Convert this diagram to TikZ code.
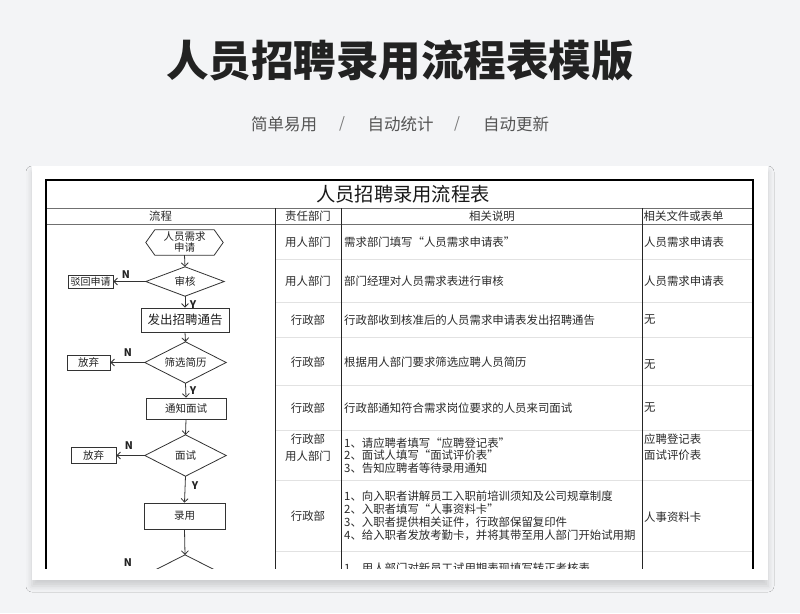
\documentclass[tikz,border=0pt]{standalone}
\usepackage{fontspec}
\setmainfont{Noto Sans CJK SC}
\usetikzlibrary{arrows.meta,shadows.blur}
\definecolor{bg}{HTML}{F3F4F6}
\definecolor{ttl}{HTML}{222222}
\definecolor{sub}{HTML}{555555}
\definecolor{fline}{HTML}{333333}
\definecolor{ftext}{HTML}{222222}
\definecolor{ctext}{HTML}{2A2A2A}
\definecolor{rowline}{HTML}{E2E2E2}
\definecolor{hline}{HTML}{707070}
\begin{document}
\begin{tikzpicture}[x=1pt,y=-1pt,
  fl/.style={draw=fline,line width=0.8pt},
  arr/.style={draw=fline,line width=0.8pt,-{Straight Barb[length=3.5pt,width=7pt]}},
  flowbox/.style={draw=fline,line width=0.8pt,inner sep=0pt,text=ftext,font=\fontsize{10.5}{11}\selectfont},
  dmd/.style={inner sep=0pt,text=ftext,font=\fontsize{10.5}{11}\selectfont},
  yn/.style={inner sep=0pt,text=ftext,font=\bfseries\fontsize{10.5}{11}\selectfont},
  cell/.style={inner sep=0pt,text=ctext,font=\fontsize{11.4}{13}\selectfont},
  lcell/.style={cell,anchor=west,align=left},
  ccell/.style={cell,align=center},
  hdr/.style={inner sep=0pt,text=ctext,font=\fontsize{11.4}{13}\selectfont}
]
\useasboundingbox (0,0) rectangle (800,613);
\fill[bg] (0,0) rectangle (800,613);

% headings
\node[inner sep=0pt,text=ttl,font=\bfseries\fontsize{42.5}{44}\selectfont] (title) at (400,61) {人员招聘录用流程表模版};
\node[inner sep=0pt,text=sub,font=\fontsize{16.5}{17}\selectfont] (s1) at (284,124) {简单易用};
\node[inner sep=0pt,text=sub!80,font=\fontsize{15}{17}\selectfont] (sl1) at (342,124) {/};
\node[inner sep=0pt,text=sub,font=\fontsize{16.5}{17}\selectfont] (s2) at (400.5,124) {自动统计};
\node[inner sep=0pt,text=sub!80,font=\fontsize{15}{17}\selectfont] (sl2) at (457,124) {/};
\node[inner sep=0pt,text=sub,font=\fontsize{16.5}{17}\selectfont] (s3) at (516,124) {自动更新};

% card
\path[fill=white,blur shadow={shadow xshift=0pt,shadow yshift=-6pt,shadow blur radius=6pt,shadow opacity=16}] (32,166) rectangle (768,580);

\begin{scope}
\clip (32,166) rectangle (768,568);
% row separators
\foreach \yy in {259,302,337,385,430,480,551}{
  \draw[rowline,line width=0.8pt] (275,\yy) -- (753,\yy);
}
% header lines
\draw[hline,line width=1pt] (46,208) -- (753,208);
\draw[hline,line width=1pt] (46,224) -- (753,224);
% column lines
\draw[black!85,line width=1pt] (275,208) -- (275,570);
\draw[black!85,line width=1pt] (341.5,208) -- (341.5,570);
\draw[black!85,line width=1pt] (642,208) -- (642,570);
% outer border
\draw[black,line width=1.4pt] (46,570) -- (46,180) -- (753,180) -- (753,570);

% table title and headers
\node[inner sep=0pt,text=black!90,font=\fontsize{19.3}{20}\selectfont] (ttitle) at (403,194) {人员招聘录用流程表};
\node[hdr] (h1) at (160.5,216) {流程};
\node[hdr] (h2) at (308,216) {责任部门};
\node[hdr] (h3) at (492,216) {相关说明};
\node[hdr,anchor=west] (h4) at (643.5,216) {相关文件或表单};

% row 1
\node[ccell] (c21) at (308,242) {用人部门};
\node[lcell] (c31) at (344,242) {需求部门填写“人员需求申请表”};
\node[lcell] (c41) at (644,242) {人员需求申请表};
% row 2
\node[ccell] (c22) at (308,281) {用人部门};
\node[lcell] (c32) at (344,281) {部门经理对人员需求表进行审核};
\node[lcell] (c42) at (644,281) {人员需求申请表};
% row 3
\node[ccell] (c23) at (308,320) {行政部};
\node[lcell] (c33) at (344,320) {行政部收到核准后的人员需求申请表发出招聘通告};
\node[lcell] (c43) at (644,320) {无};
% row 4
\node[ccell] (c24) at (308,362) {行政部};
\node[lcell] (c34) at (344,362) {根据用人部门要求筛选应聘人员简历};
\node[lcell] (c44) at (644,365) {无};
% row 5
\node[ccell] (c25) at (308,408) {行政部};
\node[lcell] (c35) at (344,408) {行政部通知符合需求岗位要求的人员来司面试};
\node[lcell] (c45) at (644,408) {无};
% row 6
\node[ccell,font=\fontsize{11.4}{16.5}\selectfont] (c26) at (308,447.5) {行政部\\用人部门};
\node[lcell,font=\fontsize{11.4}{12.8}\selectfont] (c36) at (344,455.5) {1、请应聘者填写“应聘登记表”\\2、面试人填写“面试评价表”\\3、告知应聘者等待录用通知};
\node[lcell,font=\fontsize{11.4}{15.7}\selectfont] (c46) at (644,447) {应聘登记表\\面试评价表};
% row 7
\node[ccell] (c27) at (308,516) {行政部};
\node[lcell,font=\fontsize{11.4}{13}\selectfont] (c37) at (344,515.5) {1、向入职者讲解员工入职前培训须知及公司规章制度\\2、入职者填写“人事资料卡”\\3、入职者提供相关证件，行政部保留复印件\\4、给入职者发放考勤卡，并将其带至用人部门开始试用期};
\node[lcell] (c47) at (644,517) {人事资料卡};
% row 8 (cut)
\node[lcell] (c38) at (344,568.5) {1、用人部门对新员工试用期表现填写转正考核表};

% flowchart
\node[inner sep=0pt,minimum width=77pt,minimum height=25pt,align=center,text=ftext,font=\fontsize{10.5}{11}\selectfont] (n1) at (184.5,242.5) {人员需求\\申请};
\draw[fl] (n1.west) -- ([xshift=9pt]n1.north west) -- ([xshift=-9pt]n1.north east) -- (n1.east) -- ([xshift=-9pt]n1.south east) -- ([xshift=9pt]n1.south west) -- cycle;

\node[dmd,minimum width=78pt,minimum height=29pt] (d1) at (185,281.5) {审核};
\draw[fl] (d1.west) -- (d1.north) -- (d1.east) -- (d1.south) -- cycle;
\node[flowbox,minimum width=45pt,minimum height=13pt,font=\fontsize{10}{11}\selectfont] (r1) at (90.5,281.5) {驳回申请};

\node[flowbox,minimum width=88pt,minimum height=24pt,font=\fontsize{12.5}{13}\selectfont] (b1) at (185,320) {发出招聘通告};

\node[dmd,minimum width=81pt,minimum height=41pt] (d2) at (185.5,362.5) {筛选简历};
\draw[fl] (d2.west) -- (d2.north) -- (d2.east) -- (d2.south) -- cycle;
\node[flowbox,minimum width=43pt,minimum height=15pt] (r2) at (88.5,362.5) {放弃};

\node[flowbox,minimum width=80pt,minimum height=21pt] (b2) at (186,408.5) {通知面试};

\node[dmd,minimum width=81pt,minimum height=41pt] (d3) at (185.5,455.5) {面试};
\draw[fl] (d3.west) -- (d3.north) -- (d3.east) -- (d3.south) -- cycle;
\node[flowbox,minimum width=45pt,minimum height=16pt] (r3) at (93.5,455.5) {放弃};

\node[flowbox,minimum width=81pt,minimum height=26pt] (b3) at (184.5,516) {录用};

\node[dmd,minimum width=81pt,minimum height=41pt] (d4) at (185,575.5) {};
\draw[fl] (d4.west) -- (d4.north) -- (d4.east) -- (d4.south) -- cycle;

% connectors
\draw[arr] (n1.south) -- (d1.north);
\draw[arr] (d1.west) -- (r1.east);
\draw[arr] (d1.south) -- (b1.north);
\draw[arr] (b1.south) -- (d2.north);
\draw[arr] (d2.west) -- (r2.east);
\draw[arr] (d2.south) -- (b2.north);
\draw[arr] (b2.south) -- (d3.north);
\draw[arr] (d3.west) -- (r3.east);
\draw[arr] (d3.south) -- (b3.north);
\draw[arr] (b3.south) -- (d4.north);

% labels
\node[yn] (N1) at (126,275) {N};
\node[yn] (Y1) at (193,305) {Y};
\node[yn] (N2) at (128,353) {N};
\node[yn] (Y2) at (193,391) {Y};
\node[yn] (N3) at (129,446) {N};
\node[yn] (Y3) at (195,486) {Y};
\node[yn] (N4) at (128,563) {N};
\end{scope}
\end{tikzpicture}
\end{document}
